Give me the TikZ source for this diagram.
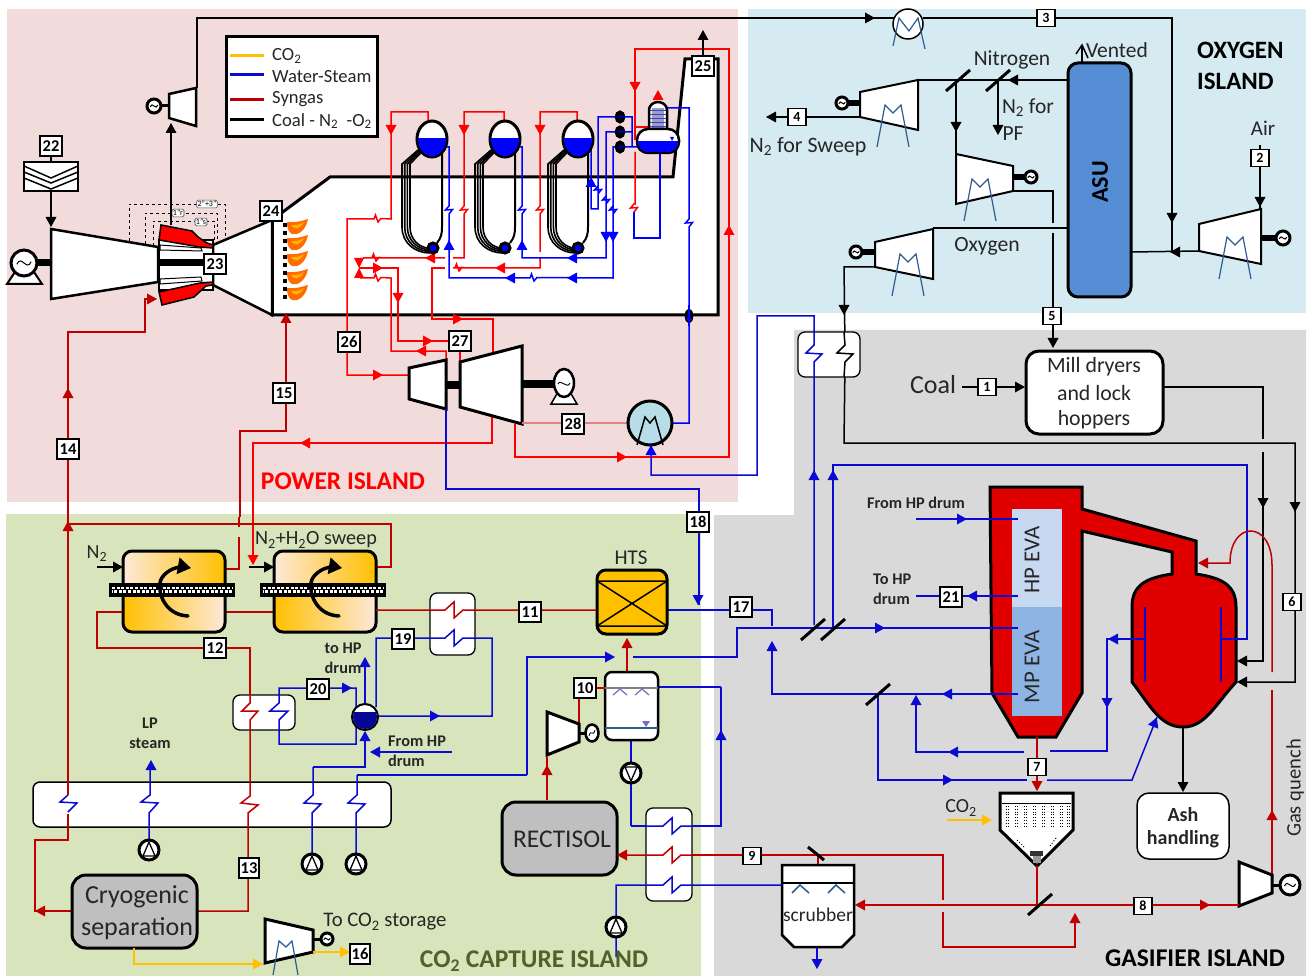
\documentclass[tikz,border=0pt]{standalone}
\usepackage{fontspec}
\setmainfont{Carlito}
\definecolor{hred}{HTML}{FF0000}
\definecolor{dred}{HTML}{C00000}
\definecolor{sblue}{HTML}{0000FF}
\definecolor{wblue}{HTML}{0A0AD2}
\definecolor{gold}{HTML}{FFC000}
\definecolor{mgray}{HTML}{2F5C8F}
\definecolor{pbg}{HTML}{F2DCDB}
\definecolor{obg}{HTML}{D5EAF1}
\definecolor{gbg}{HTML}{D9D9D9}
\definecolor{cbg}{HTML}{D8E4BC}
\definecolor{tower}{HTML}{E00000}
\definecolor{peach}{HTML}{FDE9D9}
\definecolor{asuc}{HTML}{558ED5}
\definecolor{hpc}{HTML}{C6D9F1}
\definecolor{mpc}{HTML}{8EB4E3}
\definecolor{olive}{HTML}{4F6228}
\definecolor{condc}{HTML}{B7DDE8}
\newcommand{\fs}[1]{\fontsize{#1}{#1}\selectfont}
\newcommand{\tip}[4]{\fill[#1,shift={(#2,#3)},rotate=#4] (5,0)--(-5,5.5)--(-5,-5.5)--cycle;}
% zigzags, used inside paths
\newcommand{\zv}[2]{-- ({#1},{#2-8}) -- ({#1-8},{#2}) -- ({#1+8},{#2+1}) -- ({#1},{#2+9})}
\newcommand{\zs}[2]{-- ({#1},{#2-4}) -- ({#1-3.5},{#2}) -- ({#1+3.5},{#2-.5}) -- ({#1},{#2+4})}
\newcommand{\zh}[2]{-- ({#1-3},{#2}) -- ({#1-1.5},{#2-4}) -- ({#1+1},{#2+3}) -- ({#1+4},{#2-.5})}
\newcommand{\zl}[2]{-- ({#1-9},{#2}) -- ({#1},{#2-8}) -- ({#1},{#2+8}) -- ({#1+9},{#2})}
\newcommand{\gen}[3]{\draw[black,line width=3pt,fill=white] (#1,#2) circle (#3pt);
  \draw[black,line width=1pt] ({#1-.55*#3},{#2+.1*#3}) .. controls ({#1-.2*#3},{#2-.7*#3}) and ({#1+.2*#3},{#2+.7*#3}) .. ({#1+.55*#3},{#2-.1*#3});}
\newcommand{\emm}[3]{\draw[#3,line width=1.2pt] ({#1-16},{#2+34}) -- ({#1-8},{#2-8}) -- (#1,#2) -- ({#1+8},{#2-8}) -- ({#1+16},{#2+34});}
\newcommand{\pump}[3]{\draw[black,line width=3pt,fill=white] (#1,#2) circle (10pt);
  \draw[black,line width=1.3pt] ({#1-6},{#2+#3*6}) -- (#1,{#2-#3*8}) -- ({#1+6},{#2+#3*6}) -- cycle;}
\newcommand{\drum}[2]{\draw[black,line width=3pt,fill=white] (#1,#2) ellipse (15pt and 18pt);
  \begin{scope}\clip (#1,#2) ellipse (14pt and 17pt); \fill[sblue] ({#1-20},{#2-1}) rectangle ({#1+20},{#2+20});\end{scope}}
\newcommand{\burner}[2]{\fill[orange!85!red] (#1,#2) .. controls ({#1+8},{#2+1}) and ({#1+15},{#2-1}) .. ({#1+21},{#2-3}) .. controls ({#1+19},{#2+8}) and ({#1+11},{#2+14}) .. ({#1+5},{#2+12}) .. controls ({#1+1},{#2+10}) and ({#1},{#2+5}) .. (#1,#2);
  \fill[orange!60!yellow] ({#1+4},{#2+3}) .. controls ({#1+9},{#2+4}) and ({#1+14},{#2+2}) .. ({#1+17},{#2}) .. controls ({#1+13},{#2+7}) and ({#1+8},{#2+9}) .. ({#1+4},{#2+3});}
\newcommand{\sepmark}[2]{\draw[black,line width=3pt] ({#1-12},{#2+11}) -- ({#1+12},{#2-10});}
\newcommand{\membrane}[2]{%
  \begin{scope}
    \clip[rounded corners=9pt] (#1,#2) rectangle ({#1+102},{#2+81});
    \shade[left color=peach,right color=gold] (#1,#2) rectangle ({#1+102},{#2+40});
    \shade[left color=gold,right color=peach] (#1,{#2+40}) rectangle ({#1+102},{#2+81});
  \end{scope}
  \draw[black,line width=3pt,rounded corners=9pt] (#1,#2) rectangle ({#1+102},{#2+81});
  \fill[black] ({#1-14},{#2+32}) rectangle ({#1+112},{#2+46});
  \draw[white,line width=2.2pt,dash pattern=on 3pt off 1.6pt] ({#1-11},{#2+37}) -- ({#1+109},{#2+37});
  \draw[white,line width=2.2pt,dash pattern=on 3pt off 1.6pt,dash phase=2.4pt] ({#1-11},{#2+40.5}) -- ({#1+109},{#2+40.5});
  \draw[black,line width=3.5pt,line cap=round] ({#1+65},{#2+65}) .. controls ({#1+42},{#2+64}) and ({#1+35},{#2+42}) .. ({#1+37},{#2+32}) .. controls ({#1+38},{#2+24}) and ({#1+48},{#2+17}) .. ({#1+57},{#2+16});
  \fill[black,shift={({#1+62},{#2+16})},rotate=-10] (6,0)--(-7,8.5)--(-7,-8.5)--cycle;}
\tikzset{
  rl/.style={hred,line width=1.5pt},
  dl/.style={dred,line width=1.5pt},
  bl/.style={sblue,line width=1.5pt},
  wl/.style={wblue,line width=1.5pt},
  kl/.style={black,line width=1.5pt},
  gl/.style={gold,line width=1.5pt},
  tagL/.style={draw=black,fill=white,line width=1.6pt,inner sep=0pt,minimum width=22pt,minimum height=20pt,font=\fs{16.5}\bfseries},
  tagS/.style={draw=black,fill=white,line width=1.5pt,inner sep=0pt,minimum width=18pt,minimum height=17pt,font=\fs{14}\bfseries},
  txt/.style={inner sep=0pt,text=black!85},
  mini/.style={draw=black!70,fill=white,rounded corners=1.5pt,line width=.6pt,inner sep=1pt,font=\fs{8}},
  hxbox/.style={draw=black,fill=white,line width=1.3pt,rounded corners=7pt},
  comp/.style={draw=black,fill=white,line width=2pt,line join=miter},
  thick3/.style={draw=black,fill=white,line width=3pt,line join=miter},
  shaft/.style={black,line width=6pt},
}
\begin{document}
\begin{tikzpicture}[x=1pt,y=-1pt]
\useasboundingbox (0,0) rectangle (1312,976);
% ---------- island backgrounds
\fill[white] (0,0) rectangle (1312,976);
\fill[pbg] (7,9) rectangle (738,502);
\fill[obg] (748,9) rectangle (1306,313);
\fill[gbg] (794,330) -- (1306,330) -- (1306,976) -- (714,976) -- (714,515) -- (794,515) -- cycle;
\fill[cbg] (6,514) rectangle (701,976);

% ---------- gas turbine and HRSG body
\draw[black,fill=white,line width=3pt,line join=miter] (272,220) -- (330,177) -- (673,177) -- (685,59) -- (718,59) -- (718,315) -- (272,315) -- cycle;
\draw[black,line width=2.5pt,fill=white] (213,245) -- (272,220) -- (272,315) -- (213,285) -- cycle;
\draw[black,line width=3pt] (272,220) -- (272,315);
\draw[black,line width=2.5pt,fill=white] (51,229) -- (158,247) -- (158,282) -- (51,299) -- cycle;
\draw[shaft,line width=7pt] (35,263) -- (51,263);
\draw[black,line width=2pt,fill=white] (7,284) -- (42,284) -- (34,272) -- (15,272) -- cycle;
\gen{24}{263}{13}
% filter
\draw[black,line width=1.5pt,fill=white] (24,162) rectangle (78,191);
\draw[black,line width=1.5pt] (24,166) -- (51,178) -- (78,166) (24,172) -- (51,183) -- (78,172) (24,178) -- (51,189) -- (78,178);
\draw[kl] (51,155) -- (51,162) (51,191) -- (51,226);
\tip{black}{51}{222}{270}
% combustor
\draw[black,line width=1.2pt,fill=white] (159,240) rectangle (213,290);
\draw[black,line width=1pt,fill=white] (160,245) -- (201,248) -- (202,251) -- (160,250) -- cycle;
\draw[black,line width=1pt,fill=white] (160,279) -- (201,277) -- (202,281) -- (160,284) -- cycle;
\draw[shaft,line width=7pt] (159,263) -- (205,263);
\draw[black,line width=1.5pt,fill=hred] (161,225) -- (192,231) -- (198,237) -- (207,243) -- (213,245) -- (213,248) -- (200,247) -- (159,240) -- cycle;
\draw[black,line width=1.5pt,fill=hred] (159,292) -- (200,283) -- (213,282) -- (213,285) -- (206,286) -- (194,297) -- (162,305) -- cycle;
% dashed burner frames
\draw[black,dashed,line width=.7pt] (129,241) -- (129,204) -- (225,204) -- (225,240);
\draw[black,dashed,line width=.7pt] (145,244) -- (145,213) -- (217,213) -- (217,243);
\draw[black,dashed,line width=.7pt] (153,246) -- (153,221) -- (214,221) -- (214,244);
\node[mini] (n2p3) at (207,204) {2"+3"};
\node[mini] (n1r) at (178,213) {1"r};
\node[mini] (n1s) at (201,222) {1"s};
% gas expander
\draw[kl] (171,225) -- (171,124);
\tip{black}{171}{128}{90}
\draw[comp,line width=2.5pt] (169,94) -- (196,88) -- (196,126) -- (169,118) -- cycle;
\draw[shaft,line width=3pt] (160,106) -- (169,106);
\gen{154}{106}{7}
\draw[kl] (197,88) -- (197,18) -- (894,18);
\tip{black}{870}{18}{0}
% burners
\draw[black,line width=4pt,dash pattern=on 4pt off 4pt] (285,223) -- (285,302);
\burner{287}{222}\burner{287}{238}\burner{287}{254}\burner{287}{272}\burner{287}{288}

% ---------- boiler tubes
\foreach \d in {0,73,146}{
  \foreach \o in {0,2.7,5.4,8}{
    \draw[black,line width=1.6pt] ({418+\d+\o*.5},{150+\o*.2}) -- ({402+\d+\o},164) -- ({402+\d+\o},227) .. controls ({402+\d+\o},{243-\o*.4}) and ({415+\d+\o*.6},{253-\o*.6}) .. ({430+\d},{253-\o*.6});
  }
  \draw[black,line width=2pt] ({442+\d},153) -- ({442+\d},227) .. controls ({442+\d},234) and ({441+\d},238) .. ({437+\d},243);
}
% ---------- HRSG red lines
\draw[rl] (409,375) -- (347,375) -- (347,219) \zh{377}{219} -- (391,219) -- (391,112) -- (428,112) -- (428,124);
\tip{hred}{378}{375}{0}
\tip{hred}{391}{130}{270}
\draw[rl] (504,124) -- (504,112) -- (464,112) \zs{464}{210} -- (464,258) -- (453,258);
\tip{hred}{464}{130}{270}
\draw[rl] (445,258) \zh{375}{258} -- (363,258);
\tip{hred}{430}{258}{180}
\draw[rl] (577,124) -- (577,112) -- (540,112) \zs{540}{210} -- (540,252);
\tip{hred}{540}{130}{270}
\draw[rl] (540,258) -- (540,268) -- (462,268) \zh{458}{268} -- (453,268);
\tip{hred}{500}{268}{180}
\draw[rl] (445,268) -- (432,268) -- (432,319) -- (493,319) -- (493,355);
\tip{hred}{458}{319}{0}
\fill[hred] (354,258) -- (364,258) -- (359,268) -- (364,278) -- (354,278) -- (359,268) -- cycle;
\draw[rl] (359,268) -- (398,268) -- (398,341) -- (449,341);
\tip{hred}{378}{268}{0}
\tip{hred}{398}{298}{270}
\tip{hred}{428}{341}{0}
\draw[rl] (360,278) -- (374,278) \zh{377}{278} -- (391,278) -- (391,351) -- (446,351) -- (446,360);
\tip{hred}{421}{351}{180}
\draw[rl] (460,352) -- (460,365);
\draw[rl] (492,416) -- (492,443) -- (253,443) -- (253,562);
\tip{hred}{305}{443}{180}
\tip{hred}{253}{560}{270}
\draw[rl] (515,424) -- (515,457) -- (729,457) -- (729,49) -- (635,49) -- (635,140);
\tip{hred}{622}{457}{0}
\tip{hred}{729}{230}{90}
\tip{hred}{635}{87}{270}
\draw[rl] (635,127) -- (650,127);
\draw[rl] (635,152) -- (635,204) \zs{634}{208};
\draw[rl] (658,100) -- (658,94);
\tip{hred}{658}{95}{90}
% ---------- HRSG blue lines
\draw[bl] (446,147) -- (449,147) \zs{449}{210} -- (449,278) -- (530,278) \zh{533}{278} -- (613,278) \zs{613}{210} -- (613,147) -- (640,147);
\tip{sblue}{449}{245}{90}
\tip{sblue}{510}{278}{180}
\tip{sblue}{572}{278}{180}
\tip{sblue}{613}{237}{270}
\draw[bl] (518,147) -- (522,147) \zs{522}{210} -- (522,258) -- (606,258) \zs{606}{200} -- (606,132) -- (632,132);
\tip{sblue}{522}{245}{90}
\tip{sblue}{572}{258}{180}
\tip{sblue}{606}{237}{270}
\draw[bl] (591,150) -- (591,209) -- (598,209) \zs{598}{190} -- (598,117) -- (632,117) -- (632,147);
\tip{sblue}{591}{182}{90}
\draw[bl] (634,212) -- (634,238) -- (660,238) -- (660,152);
\draw[bl] (665,108) -- (689,108) \zs{689}{223} -- (689,423) -- (672,423);
% drums
\drum{432}{139}\drum{505}{139}\drum{578}{139}
\foreach \x in {433,505,578}{\draw[black,line width=3pt,fill=sblue] (\x,248) circle (5pt);}
\foreach \y in {117,132,147}{\draw[black,line width=3pt,fill=black!70!blue] (620,\y) ellipse (3.8pt and 5pt); \draw[bl,line width=1pt] (620,\y) -- (625,\y);}
% steam drum
\draw[black,line width=2.5pt,fill=white] (649,130) -- (649,110) arc[start angle=180,end angle=0,x radius=9pt,y radius=8pt] -- (667,130) -- cycle;
\fill[blue!30!gray!60] (652,108) rectangle (664,128);
\foreach \y in {110,114,118,122,126}{\draw[blue!50!gray,line width=.8pt] (650,\y) -- (666,\y);}
\draw[black,line width=2.5pt,fill=white,rounded corners=11pt] (637,129) rectangle (679,153);
\begin{scope}
\clip[rounded corners=10pt] (638,130) rectangle (678,152);
\fill[sblue] (637,141) rectangle (679,154);
\end{scope}
\fill[sblue] (670,137) -- (674,137) -- (672,141) -- cycle;
\draw[black,line width=2.5pt,fill=black] (689,316) ellipse (3pt and 6pt);
\draw[bl] (689,305) -- (689,326);
\fill[sblue] (689,314) -- (686,320) -- (692,320) -- cycle;

% ---------- steam turbine and condenser
\draw[shaft,line width=8pt] (446,385) -- (460,385);
\draw[shaft,line width=8pt] (522,384) -- (556,384);
\draw[black,line width=3pt,fill=white] (409,368) -- (446,360) -- (446,409) -- (409,399) -- cycle;
\draw[black,line width=3pt,fill=white] (460,362) -- (522,346) -- (522,424) -- (460,407) -- cycle;
\draw[black,line width=1.5pt,fill=white] (551,404) -- (577,404) -- (570,392) -- (558,392) -- cycle;
\draw[black,line width=2.5pt,fill=white] (564,383) ellipse (10pt and 14pt);
\draw[black,line width=.9pt] (558,384) .. controls (561,378) and (567,390) .. (570,383);
\draw[hred!40!pbg!80!gray,line width=1.5pt] (522,423) -- (627,423);
\draw[black,line width=3pt,fill=condc] (650,423) circle (22pt);
\draw[black,line width=1.5pt] (637,445) -- (645,417) -- (650,423) -- (655,417) -- (663,445);
\draw[wl] (651,450) -- (651,475) -- (757,475) -- (757,316) -- (814,316) \zv{814}{353} -- (814,625);
\tip{sblue}{651}{450}{90}
\tip{wblue}{814}{475}{90}
\draw[wl] (446,409) -- (446,489) -- (699,489) -- (699,605);
\tip{wblue}{698}{600}{270}

% ---------- dark-red gas lines to the gas turbine
\draw[dl] (68,527) -- (68,332) -- (145,332) -- (145,299) -- (156,299);
\tip{dred}{152}{299}{0}
\tip{dred}{68}{393}{90}
\draw[dl] (286,318) -- (286,431) -- (240,431) -- (240,517);
\tip{dred}{286}{318}{90}

% ---------- oxygen island
\draw[black,line width=3pt,fill=asuc,rounded corners=10pt] (1068,63) rectangle (1131,297);
\node[font=\fs{24}\bfseries,rotate=90,inner sep=0pt] (asu) at (1100,182) {ASU};
\draw[kl] (1082,63) -- (1082,46);
\draw[kl] (1076,54) -- (1082,45) -- (1088,58);
\draw[kl] (1067,80) -- (918,80);
\tip{black}{1013}{80}{180}
\sepmark{958}{80}
\sepmark{998}{80}
\draw[comp] (860,92) -- (918,80) -- (918,130) -- (860,117) -- cycle;
\emm{893}{113}{mgray}
\draw[shaft] (847,103) -- (860,103);
\gen{842}{103}{6}
\draw[kl] (860,117) -- (775,117);
\tip{black}{771}{117}{180}
\draw[kl] (956,80) -- (956,154);
\tip{black}{956}{127}{270}
\draw[comp] (956,154) -- (1013,166) -- (1013,191) -- (956,204) -- cycle;
\emm{980}{187}{mgray}
\draw[shaft] (1013,177) -- (1026,177);
\gen{1031}{177}{6}
\draw[kl] (1013,191) -- (1053,191) -- (1053,223);
\draw[kl] (1053,233) -- (1053,345);
\tip{black}{1053}{343}{270}
\draw[kl] (998,80) -- (998,130);
\tip{black}{998}{130}{270}
\draw[kl] (1067,228) -- (933,228);
\draw[comp] (875,242) -- (933,229) -- (933,279) -- (875,267) -- cycle;
\emm{908}{262}{mgray}
\draw[shaft] (861,252) -- (875,252);
\gen{856}{252}{6}
\draw[kl] (875,267) -- (844,267) \zv{845}{353} -- (844,443) -- (1295,443) -- (1295,682) -- (1240,682);
\tip{black}{844}{310}{270}
\tip{black}{1295}{507}{270}
\tip{black}{1242}{682}{180}
\draw[comp] (1199,224) -- (1261,209) -- (1261,264) -- (1199,251) -- cycle;
\emm{1235}{245}{mgray}
\draw[shaft] (1261,238) -- (1276,238);
\gen{1283}{238}{7}
\draw[kl] (1260,145) -- (1260,209);
\tip{black}{1260}{202}{270}
\draw[kl] (1199,251) -- (1131,252);
\tip{black}{1175}{252}{180}
\draw[kl] (923,18) -- (1172,18) -- (1172,252);
\tip{black}{1172}{218}{270}
\draw[black,line width=1.5pt,fill=white] (908,24) circle (15pt);
\draw[mgray,line width=1.2pt] (893,46) -- (899,18) -- (909,31) -- (918,18) -- (925,49);

% ---------- gasifier island: coal
\draw[hxbox] (798,332) rectangle (860,377);
\draw[kl] (844,332) \zv{845}{353} -- (844,377);
\draw[wl] (814,332) \zv{814}{353} -- (814,377);
\draw[kl] (962,387) -- (1020,387);
\tip{black}{1020}{387}{0}
\draw[black,line width=3pt,fill=white,rounded corners=13pt] (1026,351) rectangle (1163,434);
\node[txt,font=\fs{21.8}] (mill1) at (1094,367) {Mill dryers};
\node[txt,font=\fs{21.8}] (mill2) at (1094,393) {and lock};
\node[txt,font=\fs{21.8}] (mill3) at (1094,420) {hoppers};
\draw[kl] (1163,387) -- (1263,387) -- (1263,439);
\draw[kl] (1263,452) -- (1263,661) -- (1240,661);
\tip{black}{1263}{503}{270}
\tip{black}{1242}{661}{180}

% ---------- gasifier body
\draw[black,line width=3pt,fill=tower,line join=miter] (990,487) -- (1082,487) -- (1082,509) -- (1196,541) -- (1196,574) .. controls (1222,578) and (1236,585) .. (1236,607) -- (1236,682) .. controls (1215,705) and (1205,727) .. (1183,727) .. controls (1160,727) and (1150,705) .. (1132,682) -- (1132,607) .. controls (1132,585) and (1146,578) .. (1172,574) -- (1172,552) -- (1082,531) -- (1082,693) -- (1056,737) -- (1018,737) -- (992,693) -- cycle;
\fill[hpc] (1012,509) rectangle (1062,607);
\fill[mpc] (1012,607) rectangle (1062,716);
\node[txt,rotate=90,font=\fs{22.8}] (hpeva) at (1032,560) {HP EVA};
\node[txt,rotate=90,font=\fs{22.8}] (mpeva) at (1032,667) {MP EVA};
\draw[wblue,line width=2.5pt] (1145,607) -- (1145,682) (1221,607) -- (1221,682);
% gasifier blue lines
\draw[wl] (916,519) -- (1018,519);
\tip{wblue}{962}{519}{0}
\draw[wl] (916,596) -- (1018,596);
\tip{wblue}{972}{596}{180}
\draw[wl] (633,657) -- (737,657) -- (737,628) -- (1018,628);
\tip{wblue}{880}{628}{0}
\draw[wl] (1018,694) -- (878,694) -- (772,694) -- (772,646);
\tip{wblue}{947}{694}{180}
\tip{wblue}{772}{646}{90}
\draw[wl] (878,694) -- (878,780) -- (1027,780);
\tip{wblue}{948}{780}{0}
\draw[wl] (1047,780) -- (1132,780) -- (1157,717);
\fill[wblue,shift={(1155,722)},rotate=68] (5,0)--(-5,5.5)--(-5,-5.5)--cycle;
\draw[wl] (1024,752) -- (916,752) -- (916,705);
\tip{wblue}{916}{700}{90}
\tip{wblue}{953}{752}{180}
\draw[wl] (1050,751) -- (1107,751) -- (1107,639) -- (1145,639);
\tip{wblue}{1113}{639}{180}
\tip{wblue}{1107}{703}{270}
\draw[wl] (833,628) -- (833,465) -- (1247,465) -- (1247,639) -- (1221,639);
\tip{wblue}{833}{475}{90}
\draw[wl] (668,610) -- (772,610) -- (772,626);
\sepmark{813}{629}
\sepmark{833}{629}
\sepmark{878}{694}
% quench
\draw[dl] (1272,875) -- (1272,690);
\draw[dl] (1272,672) -- (1272,565) .. controls (1272,520) and (1230,520) .. (1230,563) -- (1200,563);
\tip{dred}{1203}{563}{180}
\tip{dred}{1272}{815}{90}
\draw[thick3] (1239,862) -- (1272,875) -- (1272,893) -- (1239,906) -- cycle;
\draw[shaft,line width=3pt] (1272,885) -- (1282,885);
\gen{1290}{885}{10}
% ash
\draw[kl] (1183,727) -- (1183,790);
\tip{black}{1183}{787}{270}
\draw[black,line width=1.5pt,fill=white,rounded corners=12pt] (1137,793) rectangle (1229,859);
\node[txt,font=\fs{20}\bfseries] (ash1) at (1183,815) {Ash};
\node[txt,font=\fs{20}\bfseries] (ash2) at (1183,839) {handling};
% filter vessel
\draw[dl] (1037,737) -- (1037,790);
\tip{dred}{1037}{786}{270}
\draw[black,line width=3pt,fill=white,line join=miter] (1000,793) -- (1073,793) -- (1073,830) -- (1037,866) -- (1000,830) -- cycle;
\draw[black,line width=1pt] (1002,803) -- (1071,803);
\foreach \x in {1006,1015,1024,1033,1042,1051,1060,1067}{
  \draw[black,line width=.8pt,dotted] (\x,806) -- (\x,828);
  \draw[black,line width=.8pt,dotted] (\x+2,806) -- (\x+2,828);}
\draw[black,line width=1pt,dotted] (1017,840) -- (1025,848) (1056,838) -- (1050,846);
\fill[black!80] (1030,851) rectangle (1043,856);
\fill[black!40] (1033,856) rectangle (1041,863);
\draw[gold,line width=2pt] (947,820) -- (986,820);
\tip{gold}{987}{820}{0}
% syngas line
\draw[dl] (1037,866) -- (1037,905);
\draw[dl] (860,905) -- (1239,905);
\tip{dred}{860}{905}{180}
\tip{dred}{1205}{905}{0}
\sepmark{1040}{904}
\draw[dl] (943,912) -- (943,947) -- (1075,947) -- (1075,918);
\tip{dred}{1075}{918}{90}
\draw[dl] (943,900) -- (943,855) -- (692,855);
\draw[dl] (818,855) -- (818,865);
\draw[black,line width=3pt] (808,847) -- (824,860);
% scrubber
\draw[thick3,line width=2.5pt] (782,865) -- (854,865) -- (854,935) -- (842,947) -- (794,947) -- (782,935) -- cycle;
\draw[black,line width=2pt] (782,883) -- (854,883);
\draw[mgray,line width=1.5pt] (792,893) -- (800,885) -- (809,893) (828,893) -- (836,885) -- (845,893);
\draw[wl] (817,948) -- (817,964);
\tip{wblue}{817}{964}{270}

% ---------- CO2 capture: HTS and tower
\draw[black,line width=3pt,fill=gold,rounded corners=9pt] (597,570) rectangle (667,634);
\draw[black,line width=1.5pt] (597,581) -- (667,581) (597,626) -- (667,626) (597,581) -- (667,626) (597,626) -- (667,581);
\node[txt,font=\fs{21}] (hts) at (631,558) {HTS};
\draw[dl] (627,673) -- (627,640);
\tip{dred}{627}{643}{90}
\draw[wl] (527,775) -- (527,657) -- (605,657);
\tip{wblue}{610}{657}{0}
\draw[wl] (357,775) -- (527,775);
\draw[wl] (631,740) -- (631,826);
\draw[wl] (631,826) -- (663,826);
\draw[wl] (721,687) -- (721,826) -- (681,826);
\tip{wblue}{721}{735}{90}
\draw[wl] (658,687) -- (721,687);
% tower 10
\draw[black,line width=2.5pt,fill=white,rounded corners=7pt] (605,672) rectangle (658,740);
\draw[black!50,line width=1.5pt] (605,688) -- (658,688);
\draw[mgray,line width=1.2pt] (605,728) -- (658,728);
\draw[blue!40!gray!80,line width=1.2pt] (613,695) -- (620,689) -- (627,695) (635,695) -- (642,689) -- (649,695);
\fill[blue!40!gray!80] (642,721) -- (650,721) -- (646,727) -- cycle;
\draw[dl] (605,688) -- (585,688);
\draw[dl] (579,698) -- (579,724);
\draw[thick3] (547,712) -- (579,724) -- (579,742) -- (547,755) -- cycle;
\draw[shaft,line width=3pt] (579,733) -- (586,733);
\draw[black,line width=2.5pt,fill=white] (592,733) ellipse (6.5pt and 8.5pt);
\draw[black,line width=.8pt] (589,736) .. controls (591,728) and (593,738) .. (595,730);
\draw[dl] (547,800) -- (547,757);
\tip{dred}{547}{770}{90}
\pump{631}{773}{-1}
% rectisol
\draw[black,line width=3pt,fill=black!25,rounded corners=14pt] (502,802) rectangle (617,875);
\node[txt,font=\fs{25.5}] (rect) at (562,839) {RECTISOL};
% hx column
\draw[hxbox] (646,808) rectangle (692,901);
\draw[wl] (631,826) \zl{672}{826} -- (721,826);
\draw[dl] (692,855) -- (681,855) -- (672,863) -- (672,847) -- (663,855) -- (622,855);
\tip{dred}{622}{855}{180}
\draw[wl] (782,885) -- (681,885) -- (672,893) -- (672,877) -- (663,885) -- (616,885) -- (616,957);
\pump{616}{927}{1}

% ---------- membranes
\draw[dl] (226,569) -- (239,569) -- (239,537);
\draw[dl] (239,527) -- (239,517);
\draw[dl] (376,567) -- (391,567) -- (391,524) -- (68,524);
\tip{dred}{68}{526}{90}
\draw[dl] (124,612) -- (97,612) -- (97,648) -- (250,648) -- (250,703);
\draw[dl] (226,612) -- (274,612);
\membrane{123}{551}
\membrane{274}{551}
\draw[kl] (97,567) -- (117,567);
\tip{black}{118}{567}{0}
\draw[kl] (249,567) -- (268,567);
\tip{black}{269}{567}{0}
\draw[hxbox] (430,593) rectangle (475,655);
\draw[dl] (376,610) \zl{454}{610} -- (596,610);
\draw[wl] (376,707) -- (376,638) \zl{454}{638} -- (492,638) -- (492,716) -- (378,716);
\tip{wblue}{435}{716}{0}
\draw[hxbox] (233,695) rectangle (295,730);
\draw[dl] (250,686) -- (250,703) -- (242,711) -- (258,711) -- (250,720) -- (250,740);
\draw[wl] (356,707) -- (356,688) -- (279,688) -- (279,703) -- (270,711) -- (288,711) -- (279,720) -- (279,744) -- (356,744) -- (356,724);
\tip{wblue}{347}{688}{0}
\draw[wl] (365,705) -- (365,665);
\tip{wblue}{365}{662}{90}
\draw[wl] (313,767) -- (365,767) -- (365,740);
\tip{wblue}{365}{736}{90}
\draw[wl] (452,752) -- (375,752);
\tip{wblue}{375}{752}{180}
\draw[black,line width=2pt,fill=white] (365,717) circle (13pt);
\begin{scope}\clip (365,717) circle (12pt); \fill[black!10!wblue!80!black] (350,712) rectangle (380,732);\end{scope}

% ---------- heat bank
\draw[black,fill=white,line width=1.5pt,rounded corners=7pt] (33,782) rectangle (391,827);
\draw[dl] (68,526) -- (68,795);
\draw[wl] (68,795) -- (60,802) -- (77,803) -- (68,812);
\draw[dl] (68,814) -- (68,840) -- (35,840) -- (35,911) -- (72,911);
\tip{dred}{40}{911}{180}
\draw[wl] (149,840) -- (149,813) -- (158,803) -- (141,802) -- (150,795) -- (150,768);
\tip{wblue}{151}{765}{90}
\draw[dl] (250,740) -- (250,796) -- (241,803) -- (258,805) -- (248,813) -- (248,911) -- (198,911);
\draw[wl] (313,767) -- (313,795) -- (304,803) -- (321,804) -- (312,813) -- (312,855);
\draw[wl] (357,775) -- (357,795) -- (348,803) -- (365,804) -- (356,813) -- (356,855);
\pump{149}{850}{1}
\pump{312}{864}{1}
\pump{356}{864}{1}
\draw[black,line width=3pt,fill=black!25,rounded corners=14pt] (72,875) rectangle (197,948);
\node[txt,font=\fs{26}] (cry1) at (137,897) {Cryogenic};
\node[txt,font=\fs{26}] (cry2) at (137,929) {separation};
\draw[gl,line width=2pt] (134,948) -- (134,964) -- (257,964);
\tip{gold}{258}{964}{0}
\draw[thick3] (265,919) -- (313,930) -- (313,952) -- (265,963) -- cycle;
\draw[mgray,line width=1.2pt] (273,975) -- (279,941) -- (286,947) -- (292,941) -- (298,975);
\draw[shaft,line width=3pt] (313,939) -- (322,939);
\gen{327}{939}{6}
\draw[gl,line width=2pt] (313,952) -- (344,952);
\tip{gold}{345}{952}{0}

% ---------- legend
\draw[black,line width=3pt,fill=white] (226,37) rectangle (377,137);
\draw[gold,line width=3pt] (230,56) -- (264,56);
\draw[wblue,line width=3pt] (230,75) -- (264,75);
\draw[dred,line width=3pt] (230,100) -- (264,100);
\draw[black,line width=3pt] (230,120) -- (264,120);
\node[txt,anchor=west,font=\fs{18.6}] (lg1) at (272,56) {CO\textsubscript{2}};
\node[txt,anchor=west,font=\fs{18.6}] (lg2) at (272,77) {Water-Steam};
\node[txt,anchor=west,font=\fs{18.6}] (lg3) at (272,99) {Syngas};
\node[txt,anchor=west,font=\fs{18.6}] (lg4) at (272,121) {Coal - N\textsubscript{2}\ \ -O\textsubscript{2}};

% ---------- number tags
\node[tagL] (t22) at (51,146) {22};
\node[tagL] (t23) at (215,264) {23};
\node[tagL] (t24) at (271,211) {24};
\draw[kl] (703,56) -- (703,36);
\tip{black}{703}{35}{90}
\node[tagL] (t25) at (703,66) {25};
\node[tagL] (t26) at (349,342) {26};
\node[tagL] (t27) at (460,341) {27};
\node[tagL] (t28) at (573,424) {28};
\node[tagL] (t15) at (284,393) {15};
\node[tagL] (t14) at (68,449) {14};
\node[tagL] (t18) at (698,522) {18};
\node[tagL] (t17) at (741,607) {17};
\node[tagL] (t21) at (951,597) {21};
\node[tagL] (t20) at (318,689) {20};
\node[tagL] (t19) at (403,639) {19};
\node[tagL] (t12) at (215,648) {12};
\node[tagL] (t11) at (530,612) {11};
\node[tagL] (t10) at (585,688) {10};
\node[tagL,minimum width=20pt] (t13) at (249,868) {13};
\node[tagL,minimum width=20pt] (t16) at (360,954) {16};
\node[tagS] (t1) at (987,387) {1};
\node[tagS] (t2) at (1260,158) {2};
\node[tagS] (t3) at (1046,18) {3};
\node[tagS] (t4) at (797,117) {4};
\node[tagS] (t5) at (1052,316) {5};
\node[tagS] (t6) at (1292,602) {6};
\node[tagS] (t7) at (1037,767) {7};
\node[tagS] (t8) at (1143,906) {8};
\node[tagS] (t9) at (752,856) {9};

% ---------- texts
\node[txt,font=\fs{21.5}] (tVent) at (1117,50) {Vented};
\node[txt,font=\fs{21.5}] (tNit) at (1012,60) {Nitrogen};
\node[txt,font=\fs{21.5}] (tN2pf) at (1028,108) {N\textsubscript{2} for};
\node[txt,font=\fs{21.5}] (tPF) at (1013,134) {PF};
\node[txt,font=\fs{22}] (tSweep) at (808,147) {N\textsubscript{2} for Sweep};
\node[txt,font=\fs{21.7}] (tOxy) at (987,246) {Oxygen};
\node[txt,font=\fs{21}] (tAir) at (1263,128) {Air};
\node[txt,font=\fs{25}\bfseries,anchor=west,text=black] (tOI1) at (1197,50) {OXYGEN};
\node[txt,font=\fs{25}\bfseries,anchor=west,text=black] (tOI2) at (1197,81) {ISLAND};
\node[txt,font=\fs{26}] (tCoal) at (933,385) {Coal};
\node[txt,font=\fs{16.3}\bfseries] (tFrom1) at (916,503) {From HP drum};
\node[txt,font=\fs{16.3}\bfseries,anchor=west] (tTo1) at (873,579) {To HP};
\node[txt,font=\fs{16.3}\bfseries,anchor=west] (tTo2) at (873,599) {drum};
\node[txt,font=\fs{20}] (tCO2a) at (961,808) {CO\textsubscript{2}};
\node[txt,font=\fs{19.5}] (tScr) at (818,915) {scrubber};
\node[txt,rotate=90,font=\fs{20.6}] (tQ) at (1295,788) {Gas quench};
\node[txt,font=\fs{25.5}\bfseries,text=black] (tGI) at (1195,958) {GASIFIER ISLAND};
\node[txt,font=\fs{25.5}\bfseries,text=hred] (tPI) at (343,481) {POWER ISLAND};
\node[txt,font=\fs{25.5}\bfseries,text=olive] (tCI) at (534,961) {CO\textsubscript{2} CAPTURE ISLAND};
\node[txt,font=\fs{20}] (tN2) at (97,554) {N\textsubscript{2}};
\node[txt,font=\fs{20.2}] (tSw) at (316,540) {N\textsubscript{2}+H\textsubscript{2}O sweep};
\node[txt,font=\fs{16.3}\bfseries] (tHP1) at (343,648) {to HP};
\node[txt,font=\fs{16.3}\bfseries] (tHP2) at (343,668) {drum};
\node[txt,font=\fs{16.3}\bfseries,anchor=west] (tFH1) at (388,741) {From HP};
\node[txt,font=\fs{16.3}\bfseries,anchor=west] (tFH2) at (388,761) {drum};
\node[txt,font=\fs{16.3}\bfseries] (tLP1) at (150,723) {LP};
\node[txt,font=\fs{16.3}\bfseries] (tLP2) at (150,743) {steam};
\node[txt,font=\fs{20.7}] (tStor) at (385,922) {To CO\textsubscript{2} storage};
\end{tikzpicture}
\end{document}
